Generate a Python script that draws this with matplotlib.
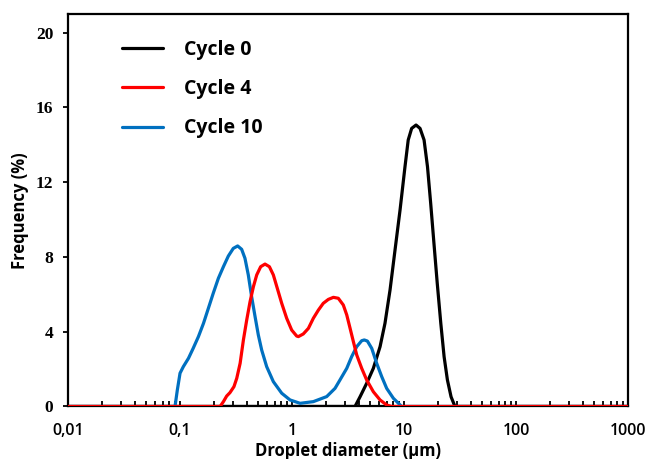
import matplotlib.pyplot as plt
from matplotlib.ticker import FixedLocator, LogLocator, NullFormatter

# Droplet size distributions
d_cycle0 = [0.01, 3.65, 4.05, 4.64, 5.32, 6.11, 6.76, 7.50, 8.31, 9.21, 10.2, 10.9, 11.7, 12.8,
            13.9, 15.1, 16.2, 17.3, 18.5, 19.8, 21.3, 22.8, 24.4, 26.3, 28.5, 1000]
f_cycle0 = [0, 0, 0.52, 1.24, 2.04, 3.2, 4.45, 6.23, 8.37, 10.5, 12.83, 14.26, 14.88, 15.06,
            14.88, 14.26, 12.83, 10.87, 8.73, 6.59, 4.45, 2.66, 1.42, 0.52, 0, 0]

d_cycle4 = [0.01, 0.228, 0.244, 0.261, 0.279, 0.303, 0.321, 0.344, 0.368, 0.394, 0.422, 0.452,
            0.484, 0.525, 0.574, 0.628, 0.681, 0.739, 0.809, 0.896, 0.993, 1.10, 1.14, 1.26,
            1.40, 1.55, 1.72, 1.90, 2.11, 2.34, 2.59, 2.87, 3.08, 3.30, 3.53, 3.78, 4.19,
            4.64, 5.32, 6.11, 7.00, 7.76, 1000]
f_cycle4 = [0, 0, 0.26, 0.56, 0.74, 1.06, 1.51, 2.31, 3.56, 4.63, 5.61, 6.41,
            7.04, 7.48, 7.62, 7.48, 7.04, 6.32, 5.52, 4.72, 4.09, 3.77, 3.74, 3.88,
            4.18, 4.72, 5.16, 5.52, 5.73, 5.84, 5.79, 5.43, 4.90, 4.18, 3.47, 2.76, 2.04,
            1.42, 0.79, 0.35, 0.08, 0, 0]

d_cycle10 = [0.01, 0.0902, 0.0946, 0.100, 0.107, 0.119, 0.131, 0.146, 0.162, 0.179, 0.198, 0.220,
             0.244, 0.270, 0.299, 0.327, 0.355, 0.380, 0.407, 0.436, 0.468, 0.500, 0.536,
             0.594, 0.681, 0.809, 0.960, 1.18, 1.55, 2.04, 2.42, 2.68, 3.08, 3.41, 3.78,
             4.19, 4.42, 4.71, 5.15, 5.70, 6.32, 7.00, 8.03, 9.53, 1000]
f_cycle10 = [0, 0, 0.88, 1.78, 2.13, 2.58, 3.11, 3.74, 4.45, 5.25, 6.06, 6.86,
             7.48, 8.05, 8.46, 8.59, 8.41, 7.93, 7.04, 5.87, 4.80, 3.83, 3.02,
             2.13, 1.33, 0.71, 0.35, 0.17, 0.26, 0.53, 0.97, 1.42, 2.04, 2.67, 3.20,
             3.52, 3.56, 3.50, 3.11, 2.31, 1.60, 0.97, 0.44, 0, 0]

x_ticks = [0.01, 0.1, 1, 10, 100, 1000]
x_ticklabels = ["0,01", "0,1", "1", "10", "100", "1000"]
y_ticks = [0, 4, 8, 12, 16, 20]

fig = plt.figure(figsize=(6.51, 4.59), dpi=100)
ax = fig.add_axes([0.1045, 0.1144, 0.8602, 0.8551])

line_kw = dict(lw=2.3, solid_joinstyle="round", solid_capstyle="round")
ax.plot(d_cycle0, f_cycle0, color="black", label="Cycle 0", zorder=3, **line_kw)
ax.plot(d_cycle4, f_cycle4, color="#FF0000", label="Cycle 4", zorder=5, **line_kw)
ax.plot(d_cycle10, f_cycle10, color="#0070C0", label="Cycle 10", zorder=4, **line_kw)

ax.set_xscale("log")
ax.set_xlim(0.01, 1000)
ax.set_ylim(0, 21)

ax.xaxis.set_major_locator(FixedLocator(x_ticks))
ax.set_xticklabels(x_ticklabels)
ax.xaxis.set_minor_locator(LogLocator(base=10, subs=range(2, 10)))
ax.xaxis.set_minor_formatter(NullFormatter())
ax.set_yticks(y_ticks)

ax.tick_params(axis="x", which="both", direction="in", length=3.5, width=1.3, pad=12)
ax.tick_params(axis="y", direction="out", length=3.6, width=1.3, pad=7)
for lab in ax.get_xticklabels():
    lab.set_fontfamily("Open Sans")
    lab.set_fontweight("semibold")
    lab.set_fontsize(11.5)
for lab in ax.get_yticklabels():
    lab.set_fontfamily("Liberation Serif")
    lab.set_fontweight("bold")
    lab.set_fontsize(12.5)

for s in ax.spines.values():
    s.set_linewidth(1.6)

ax.set_xlabel("Droplet diameter (µm)", fontfamily="Open Sans", fontweight="bold", fontsize=12, labelpad=2)
ax.set_ylabel("Frequency (%)", fontfamily="Open Sans", fontweight="bold", fontsize=12, labelpad=5)

ax.legend(loc="upper left", bbox_to_anchor=(0.096, 0.935), frameon=False, borderpad=0,
          borderaxespad=0, handlelength=2.1, handletextpad=1.1, labelspacing=1.0,
          prop={"family": "Open Sans", "weight": "bold", "size": 14})

fig.savefig("out.png", dpi=100)
